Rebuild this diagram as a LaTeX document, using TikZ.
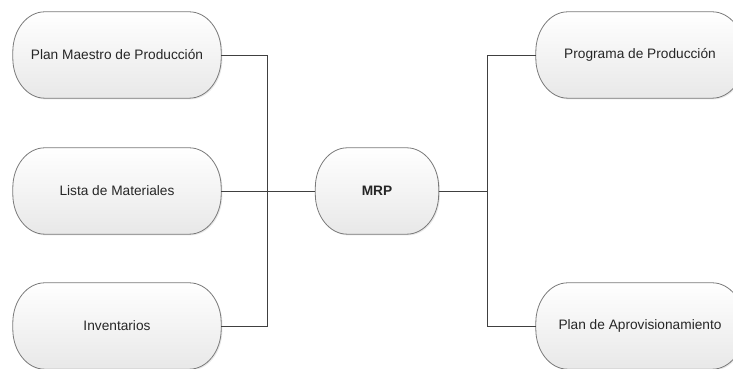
\documentclass[tikz,border=0pt]{standalone}
\usepackage{fontspec}
\setmainfont{Liberation Sans}
\usetikzlibrary{shadows,backgrounds,calc}
\definecolor{linegray}{HTML}{404040}
\definecolor{boxedge}{HTML}{7A7A7A}
\definecolor{boxtext}{HTML}{262626}
\tikzset{
  pill/.style={minimum width=208pt, minimum height=86pt, text=boxtext,
    font=\fontsize{13.7}{16}\selectfont},
  pillbody/.style={draw=boxedge, line width=0.8pt, top color=white, bottom color=black!9,
    drop shadow={opacity=0.18, shadow xshift=1.2pt, shadow yshift=-1.2pt}},
  link/.style={draw=linegray, line width=0.9pt}
}
% stadium outline with elliptic ends behind node #1
\newcommand{\pillbox}[1]{%
  \path[pillbody] ($(#1.north west)+(32,0)$) -- ($(#1.north east)+(-32,0)$)
    arc[start angle=90, end angle=0, x radius=32, y radius=40]
    -- ($(#1.south east)+(0,40)$)
    arc[start angle=0, end angle=-90, x radius=32, y radius=40]
    -- ($(#1.south west)+(32,0)$)
    arc[start angle=270, end angle=180, x radius=32, y radius=40]
    -- ($(#1.north west)+(0,-40)$)
    arc[start angle=180, end angle=90, x radius=32, y radius=40] -- cycle;}
\begin{document}
\begin{tikzpicture}[x=1pt, y=1pt]
\useasboundingbox (0,0) rectangle (733,369);
\clip (0,0) rectangle (733,369);
% entradas
\node[pill] (pmp) at (117,314) {Plan Maestro de Producción};
\node[pill] (lm) at (117,178) {Lista de Materiales};
\node[pill] (inv) at (117,43) {Inventarios};
% nucleo
\node[pill, minimum width=123pt, font=\fontsize{13.7}{16}\selectfont\bfseries] (mrp) at (377,178) {MRP};
% salidas
\node[pill] (pp) at (640,314) {Programa de Producción};
\node[pill] (pa) at (640,43) {Plan de Aprovisionamiento};
\begin{scope}[on background layer]
\foreach \n in {pmp,lm,inv,mrp,pp,pa}
  {\pillbox{\n}}
\end{scope}
% conexiones
\coordinate (lj) at (267,178);
\coordinate (rj) at (487,178);
\draw[link] (pmp) -| (lj);
\draw[link] (inv) -| (lj);
\draw[link] (lm) -- (mrp);
\draw[link] (mrp) -- (rj);
\draw[link] (rj) |- (pp);
\draw[link] (rj) |- (pa);
\end{tikzpicture}
\end{document}
